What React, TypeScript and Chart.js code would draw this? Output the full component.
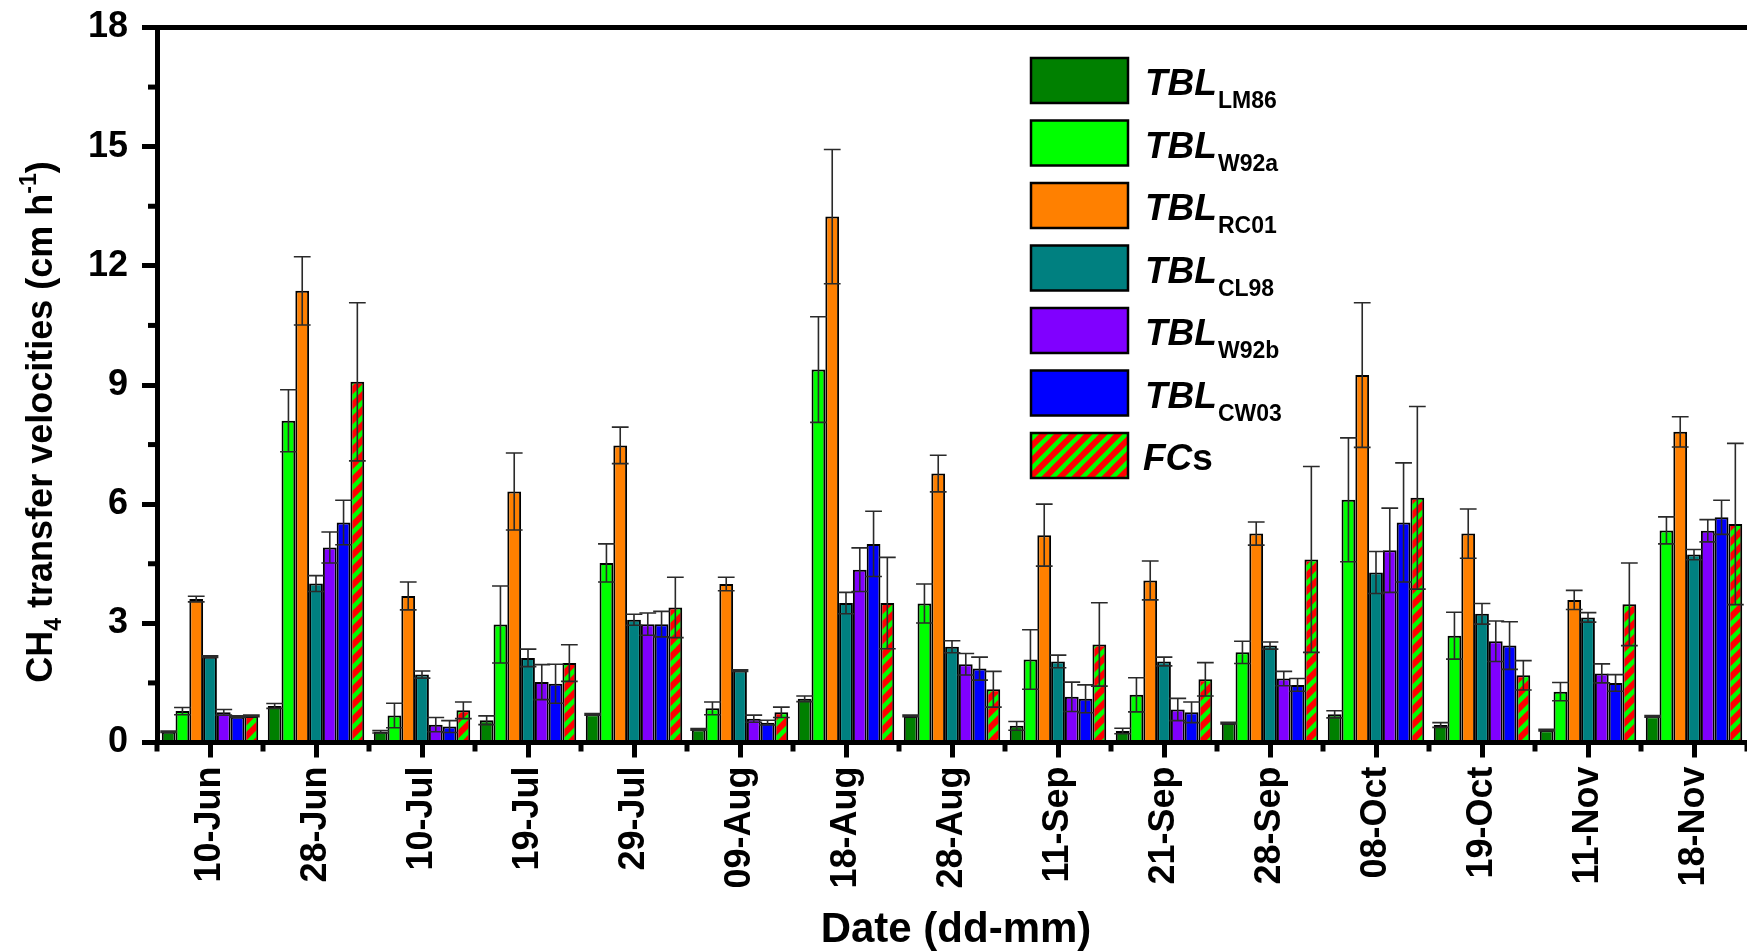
import React, { useEffect, useRef } from 'react';
import { Chart, registerables } from 'chart.js';

Chart.register(...registerables);

const FONT = '"Liberation Sans", Arial, Helvetica, sans-serif';

const dates = ['10-Jun', '28-Jun', '10-Jul', '19-Jul', '29-Jul', '09-Aug', '18-Aug', '28-Aug', '11-Sep', '21-Sep', '28-Sep', '08-Oct', '19-Oct', '11-Nov', '18-Nov'];

const yTicks = [0, 3, 6, 9, 12, 15, 18];

const lm86 = [0.27, 0.92, 0.27, 0.56, 0.71, 0.33, 1.10, 0.67, 0.42, 0.29, 0.49, 0.71, 0.44, 0.31, 0.66];
const lm86Err = [0.02, 0.06, 0.03, 0.11, 0.02, 0.02, 0.07, 0.02, 0.11, 0.07, 0.02, 0.09, 0.06, 0.02, 0.02];

const w92a = [0.79, 8.10, 0.68, 2.97, 4.52, 0.86, 9.39, 3.50, 2.09, 1.20, 2.27, 6.11, 2.69, 1.28, 5.34];
const w92aErr = [0.09, 0.78, 0.31, 0.97, 0.48, 0.16, 1.33, 0.49, 0.75, 0.43, 0.28, 1.56, 0.59, 0.23, 0.34];

const rc01 = [3.61, 11.37, 3.69, 6.32, 7.48, 3.99, 13.24, 6.77, 5.22, 4.08, 5.26, 9.25, 5.26, 3.59, 7.82];
const rc01Err = [0.07, 0.86, 0.35, 0.97, 0.46, 0.17, 1.69, 0.46, 0.78, 0.49, 0.29, 1.82, 0.62, 0.24, 0.38];

const cl98 = [2.16, 4.00, 1.71, 2.13, 3.09, 1.81, 3.51, 2.41, 2.04, 2.04, 2.44, 4.28, 3.24, 3.15, 4.73];
const cl98Err = [0.02, 0.20, 0.09, 0.22, 0.14, 0.02, 0.27, 0.15, 0.16, 0.11, 0.09, 0.53, 0.26, 0.12, 0.13];

const w92b = [0.76, 4.91, 0.45, 1.52, 2.98, 0.60, 4.35, 1.97, 1.15, 0.83, 1.61, 4.84, 2.55, 1.74, 5.33];
const w92bErr = [0.07, 0.39, 0.18, 0.44, 0.28, 0.09, 0.55, 0.27, 0.37, 0.28, 0.18, 1.06, 0.51, 0.24, 0.28];

const cw03 = [0.65, 5.54, 0.40, 1.48, 2.98, 0.50, 5.00, 1.86, 1.10, 0.76, 1.45, 5.54, 2.44, 1.50, 5.67];
const cw03Err = [0.02, 0.56, 0.15, 0.49, 0.32, 0.06, 0.82, 0.29, 0.35, 0.26, 0.16, 1.50, 0.60, 0.21, 0.43];

const fcs = [0.67, 9.08, 0.81, 2.00, 3.40, 0.76, 3.51, 1.34, 2.47, 1.59, 4.61, 6.16, 1.69, 3.48, 5.50];
const fcsErr = [0.02, 1.99, 0.21, 0.46, 0.76, 0.13, 1.15, 0.45, 1.05, 0.42, 2.34, 2.30, 0.37, 1.04, 2.03];

const seriesSubs = ['LM86', 'W92a', 'RC01', 'CL98', 'W92b', 'CW03', 's'];
const seriesColors = ['#008000', '#00FF00', '#FF8000', '#008080', '#8000FF', '#0000FF', 'PATTERN'];

function makePattern(): CanvasPattern | string {
  const s = 15;
  const tile = document.createElement('canvas');
  tile.width = s;
  tile.height = s;
  const t = tile.getContext('2d');
  if (!t) return '#FF0000';
  t.fillStyle = '#FF0000';
  t.fillRect(0, 0, s, s);
  t.strokeStyle = '#00FF00';
  t.lineWidth = 4.5;
  for (const k of [-1, 0, 1]) {
    t.beginPath();
    t.moveTo(k * s - 4, s + 4);
    t.lineTo(k * s + s + 4, -4);
    t.stroke();
  }
  const p = t.createPattern(tile, 'repeat');
  return p || '#FF0000';
}

export default function App() {
  const ref = useRef<HTMLCanvasElement | null>(null);

  useEffect(() => {
    const canvas = ref.current;
    if (!canvas) return;
    Chart.defaults.font.family = FONT;
    const pattern = makePattern();

    const values = [lm86, w92a, rc01, cl98, w92b, cw03, fcs];
    const errors = [lm86Err, w92aErr, rc01Err, cl98Err, w92bErr, cw03Err, fcsErr];

    const datasets = values.map((v, i) => ({
      label: i === 6 ? 'FCs' : 'TBL' + seriesSubs[i],
      data: v,
      errors: errors[i],
      backgroundColor: seriesColors[i] === 'PATTERN' ? pattern : seriesColors[i],
      borderColor: '#000000',
      borderWidth: 2,
      borderSkipped: false as const,
      categoryPercentage: 0.91,
      barPercentage: 1.0,
    }));

    const errorBars = {
      id: 'errorBars',
      afterDatasetsDraw(chart: any) {
        const ctx = chart.ctx;
        const ys = chart.scales.y;
        ctx.save();
        ctx.strokeStyle = '#2a2a2a';
        ctx.lineWidth = 1.6;
        chart.data.datasets.forEach((ds: any, i: number) => {
          const meta = chart.getDatasetMeta(i);
          meta.data.forEach((bar: any, j: number) => {
            const v = ds.data[j];
            const e = ds.errors[j];
            const x = bar.x;
            const w = bar.width + 3;
            const yt = ys.getPixelForValue(v + e);
            const yb = ys.getPixelForValue(v - e);
            ctx.beginPath();
            ctx.moveTo(x, yt);
            ctx.lineTo(x, yb);
            ctx.moveTo(x - w / 2, yt);
            ctx.lineTo(x + w / 2, yt);
            ctx.moveTo(x - w / 2, yb);
            ctx.lineTo(x + w / 2, yb);
            ctx.stroke();
          });
        });
        ctx.restore();
      },
    };

    const decorations = {
      id: 'decorations',
      afterDraw(chart: any) {
        const ctx = chart.ctx;
        const area = chart.chartArea;
        const ys = chart.scales.y;
        ctx.save();
        ctx.fillStyle = '#000';
        // top frame line
        ctx.fillRect(area.left - 2.5, area.top - 2.5, chart.width, 5);
        // y minor ticks
        for (let k = 0; k < yTicks.length - 1; k++) {
          const mv = (yTicks[k] + yTicks[k + 1]) / 2;
          const py = ys.getPixelForValue(mv);
          ctx.fillRect(area.left - 9, py - 2.5, 8, 5);
        }
        // x minor ticks at category boundaries
        const step = (area.right - area.left) / dates.length;
        for (let k = 0; k <= dates.length; k++) {
          const px = area.left + k * step;
          ctx.fillRect(px - 2.5, area.bottom, 5, 9);
        }
        // y title with sub/superscripts
        ctx.save();
        ctx.translate(52, 422);
        ctx.rotate(-Math.PI / 2);
        const big = 'bold 36px ' + FONT;
        const small = 'bold 23px ' + FONT;
        const parts: [string, string, number][] = [
          ['CH', big, 0],
          ['4', small, 9],
          [' transfer velocities (cm h', big, 0],
          ['-1', small, -16],
          [')', big, 0],
        ];
        let total = 0;
        for (const [txt, f] of parts) {
          ctx.font = f;
          total += ctx.measureText(txt).width;
        }
        let cx = -total / 2;
        ctx.textBaseline = 'alphabetic';
        ctx.textAlign = 'left';
        for (const [txt, f, dy] of parts) {
          ctx.font = f;
          ctx.fillText(txt, cx, dy);
          cx += ctx.measureText(txt).width;
        }
        ctx.restore();
        // x title
        ctx.font = 'bold 42px ' + FONT;
        ctx.textAlign = 'center';
        ctx.textBaseline = 'alphabetic';
        ctx.fillText('Date (dd-mm)', 956, 942);
        // legend
        const bx = 1031, bw = 97, bh = 45;
        for (let i = 0; i < 7; i++) {
          const top = 58 + i * 62.5;
          const ds = chart.data.datasets[i];
          ctx.fillStyle = ds.backgroundColor;
          ctx.fillRect(bx, top, bw, bh);
          ctx.strokeStyle = '#000';
          ctx.lineWidth = 2.5;
          ctx.strokeRect(bx, top, bw, bh);
          ctx.fillStyle = '#000';
          ctx.textAlign = 'left';
          if (i < 6) {
            ctx.font = 'italic bold 37px ' + FONT;
            ctx.fillText('TBL', 1145, top + 37);
            const w = ctx.measureText('TBL').width;
            ctx.font = 'bold 23px ' + FONT;
            ctx.fillText(seriesSubs[i], 1145 + w + 1, top + 50);
          } else {
            ctx.font = 'italic bold 37px ' + FONT;
            ctx.fillText('FC', 1143, top + 37);
            const w = ctx.measureText('FC').width;
            ctx.font = 'bold 37px ' + FONT;
            ctx.fillText('s', 1143 + w, top + 37);
          }
        }
        ctx.restore();
      },
    };

    const chart = new Chart(canvas, {
      type: 'bar',
      data: { labels: dates, datasets: datasets as any },
      plugins: [errorBars, decorations],
      options: {
        responsive: false,
        animation: false,
        devicePixelRatio: 1,
        layout: { padding: { top: 27.5, right: 0, bottom: 0, left: 0 } },
        plugins: {
          legend: { display: false },
          tooltip: { enabled: false },
          title: { display: false },
        },
        scales: {
          x: {
            type: 'category',
            offset: true,
            grid: {
              display: true,
              offset: false,
              drawOnChartArea: false,
              drawTicks: true,
              tickLength: 15,
              tickWidth: 5,
              tickColor: '#000',
            },
            border: { display: true, width: 5, color: '#000', z: 1 },
            ticks: {
              autoSkip: false,
              minRotation: 90,
              maxRotation: 90,
              padding: 9,
              color: '#000',
              font: { family: FONT, size: 36, weight: 'bold' },
            },
            afterFit: (s: any) => {
              s.height = 208.5;
              s.paddingLeft = 0;
              s.paddingRight = 0;
            },
          },
          y: {
            type: 'linear',
            min: 0,
            max: 18,
            grid: {
              display: true,
              drawOnChartArea: false,
              drawTicks: true,
              tickLength: 15,
              tickWidth: 5,
              tickColor: '#000',
            },
            border: { display: true, width: 5, color: '#000', z: 1 },
            ticks: {
              stepSize: 3,
              padding: 14,
              color: '#000',
              font: { family: FONT, size: 36, weight: 'bold' },
            },
            afterFit: (s: any) => {
              s.width = 157;
              s.paddingTop = 0;
              s.paddingBottom = 0;
            },
          },
        },
      } as any,
    });

    return () => {
      chart.destroy();
    };
  }, []);

  return (
    <div style={{ position: 'absolute', left: 0, top: 0, width: 1747, height: 951, background: '#fff' }}>
      <canvas ref={ref} width={1747} height={951} style={{ display: 'block', width: 1747, height: 951 }} />
    </div>
  );
}
